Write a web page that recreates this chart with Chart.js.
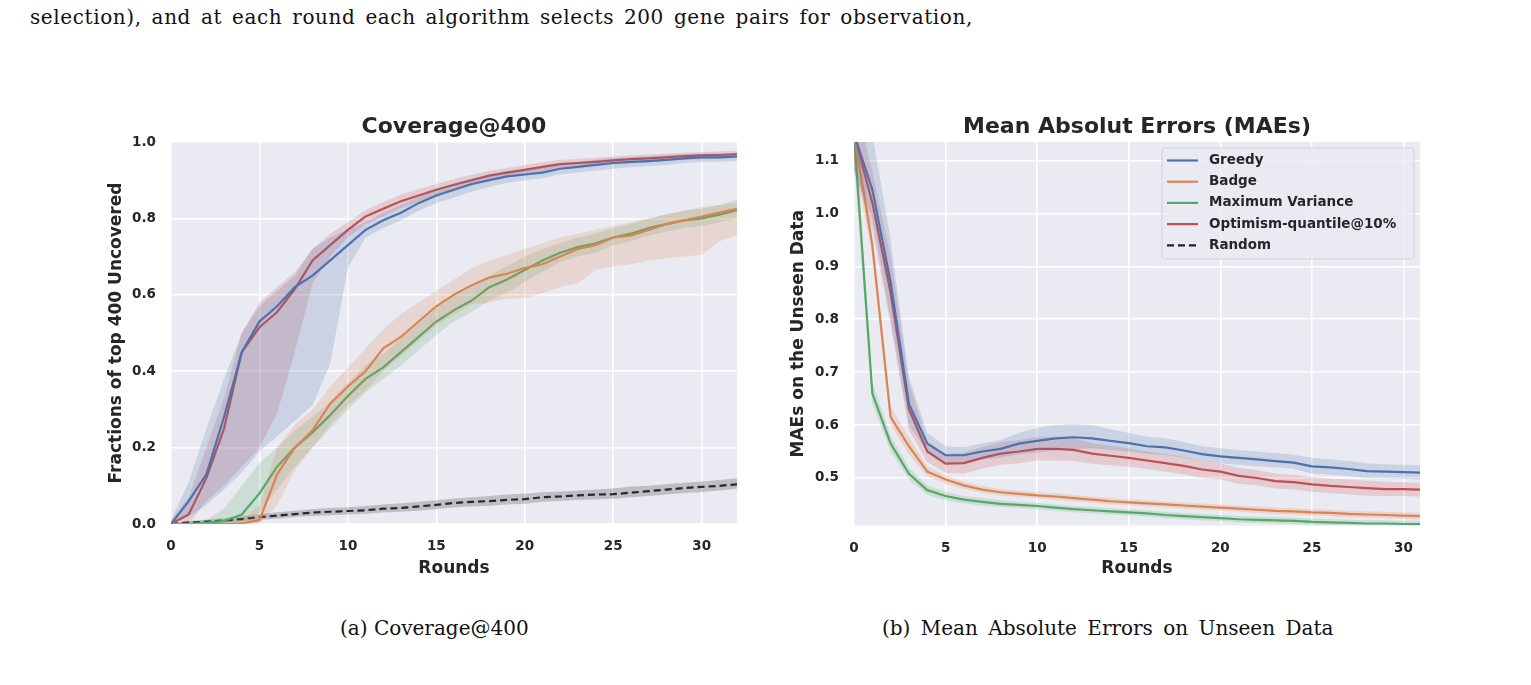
<!DOCTYPE html>
<html>
<head>
<meta charset="utf-8">
<script src="https://cdn.jsdelivr.net/npm/chart.js@4.4.1/dist/chart.umd.min.js"></script>
<style>
  body { margin: 0; background: #fff; width: 1531px; height: 685px; overflow: hidden; position: relative; }
  .txt { position: absolute; font-family: "DejaVu Serif", serif; color: #111; white-space: nowrap; }
  .box { position: absolute; }
</style>
</head>
<body>
<div class="txt" style="left:30px; top:5px; font-size:20px; letter-spacing:0.6px; word-spacing:3px;">selection), and at each round each algorithm selects 200 gene pairs for observation,</div>

<div class="box" style="left:100px; top:100px;"><canvas id="covChart" width="660" height="490"></canvas></div>
<div class="box" style="left:780px; top:100px;"><canvas id="maeChart" width="660" height="490"></canvas></div>

<div class="txt" style="left:340px; top:616px; font-size:20px;">(a) Coverage@400</div>
<div class="txt" style="left:882px; top:616px; font-size:20px; word-spacing:4px;">(b) Mean Absolute Errors on Unseen Data</div>

<script>
// --- series names + colours (seaborn "deep") ---
const seriesNames = ['Greedy', 'Badge', 'Maximum Variance', 'Optimism-quantile@10%', 'Random'];
const seriesColors = ['#4c72b0', '#dd8452', '#55a868', '#c44e52', '#222222'];

// --- Coverage@400 (rounds 0..32) ---
const covRounds = [0,1,2,3,4,5,6,7,8,9,10,11,12,13,14,15,16,17,18,19,20,21,22,23,24,25,26,27,28,29,30,31,32];
const greedyCov   = [0,0.06,0.13,0.28,0.45,0.53,0.57,0.62,0.65,0.69,0.73,0.77,0.795,0.815,0.84,0.86,0.875,0.89,0.9,0.91,0.915,0.92,0.93,0.935,0.94,0.945,0.948,0.95,0.953,0.957,0.96,0.96,0.962];
const greedyCovLo = [0,0.02,0.05,0.09,0.135,0.19,0.23,0.27,0.31,0.42,0.67,0.75,0.775,0.795,0.82,0.84,0.855,0.87,0.882,0.893,0.9,0.905,0.915,0.92,0.925,0.93,0.934,0.937,0.94,0.945,0.948,0.948,0.95];
const greedyCovHi = [0.01,0.11,0.25,0.38,0.5,0.57,0.61,0.65,0.72,0.75,0.77,0.79,0.815,0.835,0.857,0.877,0.89,0.905,0.915,0.925,0.93,0.935,0.943,0.948,0.953,0.958,0.96,0.962,0.965,0.968,0.97,0.97,0.972];
const badgeCov    = [0,0,0,0,0.002,0.01,0.13,0.2,0.245,0.315,0.36,0.4,0.46,0.49,0.53,0.57,0.6,0.625,0.645,0.655,0.67,0.68,0.7,0.72,0.73,0.75,0.755,0.77,0.785,0.795,0.805,0.815,0.825];
const badgeCovLo  = [0,0,0,0,0,0,0.05,0.14,0.2,0.26,0.31,0.35,0.4,0.44,0.48,0.52,0.55,0.575,0.58,0.59,0.59,0.605,0.62,0.63,0.665,0.675,0.68,0.69,0.695,0.7,0.705,0.74,0.755];
const badgeCovHi  = [0,0,0,0.005,0.01,0.05,0.2,0.26,0.3,0.36,0.41,0.46,0.51,0.55,0.58,0.61,0.64,0.67,0.69,0.705,0.72,0.735,0.75,0.76,0.77,0.78,0.79,0.8,0.81,0.82,0.83,0.835,0.84];
const maxVarCov   = [0,0,0.003,0.008,0.025,0.08,0.15,0.2,0.24,0.285,0.335,0.38,0.41,0.45,0.49,0.53,0.56,0.585,0.62,0.64,0.665,0.69,0.71,0.725,0.735,0.75,0.76,0.775,0.785,0.795,0.8,0.81,0.822];
const maxVarCovLo = [0,0,0,0,0.005,0.03,0.09,0.15,0.2,0.25,0.3,0.345,0.38,0.415,0.455,0.495,0.53,0.555,0.585,0.605,0.635,0.66,0.685,0.7,0.71,0.73,0.74,0.755,0.765,0.775,0.78,0.79,0.8];
const maxVarCovHi = [0,0.005,0.01,0.04,0.1,0.16,0.2,0.245,0.28,0.32,0.37,0.415,0.445,0.485,0.525,0.565,0.595,0.62,0.65,0.675,0.7,0.72,0.735,0.75,0.76,0.775,0.785,0.8,0.81,0.82,0.825,0.835,0.85];
const optCov      = [0,0.025,0.12,0.25,0.45,0.515,0.555,0.615,0.69,0.73,0.77,0.805,0.825,0.845,0.86,0.875,0.888,0.9,0.912,0.92,0.927,0.935,0.942,0.945,0.948,0.952,0.955,0.957,0.96,0.963,0.965,0.966,0.968];
const optCovLo    = [0,0,0.06,0.1,0.15,0.2,0.29,0.45,0.63,0.7,0.75,0.785,0.805,0.827,0.843,0.86,0.873,0.886,0.898,0.907,0.914,0.922,0.93,0.934,0.937,0.941,0.944,0.947,0.95,0.953,0.955,0.956,0.958];
const optCovHi    = [0.01,0.07,0.2,0.33,0.5,0.58,0.62,0.66,0.72,0.76,0.79,0.822,0.843,0.862,0.877,0.89,0.903,0.914,0.925,0.932,0.94,0.947,0.953,0.956,0.959,0.962,0.965,0.967,0.97,0.972,0.974,0.975,0.977];
const randomCov   = [0,0.004,0.006,0.009,0.013,0.018,0.022,0.026,0.03,0.032,0.034,0.036,0.04,0.042,0.046,0.05,0.055,0.058,0.06,0.063,0.065,0.07,0.072,0.075,0.077,0.078,0.082,0.086,0.09,0.094,0.097,0.1,0.104];
const randomCovLo = [0,0,0.002,0.004,0.007,0.011,0.014,0.018,0.021,0.023,0.025,0.027,0.03,0.032,0.035,0.039,0.043,0.046,0.048,0.051,0.053,0.058,0.06,0.063,0.065,0.066,0.07,0.073,0.077,0.081,0.084,0.088,0.092];
const randomCovHi = [0,0.008,0.011,0.015,0.02,0.026,0.031,0.035,0.039,0.042,0.044,0.047,0.051,0.054,0.058,0.062,0.067,0.07,0.073,0.077,0.079,0.083,0.085,0.088,0.09,0.093,0.098,0.1,0.104,0.108,0.111,0.115,0.12];
const covXTicks = [0, 5, 10, 15, 20, 25, 30];
const covYTicks = [0, 0.2, 0.4, 0.6, 0.8, 1.0];

// --- MAEs (rounds 0..31) ---
const maeRounds = [0,1,2,3,4,5,6,7,8,9,10,11,12,13,14,15,16,17,18,19,20,21,22,23,24,25,26,27,28,29,30,31];
const greedyMae   = [1.15,1.045,0.87,0.64,0.565,0.543,0.543,0.55,0.555,0.565,0.57,0.575,0.577,0.575,0.57,0.566,0.56,0.558,0.552,0.545,0.541,0.538,0.535,0.532,0.529,0.522,0.52,0.517,0.513,0.512,0.511,0.51];
const greedyMaeLo = [1.08,0.99,0.8,0.6,0.55,0.53,0.53,0.535,0.538,0.545,0.548,0.552,0.555,0.556,0.553,0.55,0.546,0.543,0.538,0.532,0.528,0.525,0.522,0.52,0.517,0.508,0.506,0.503,0.5,0.499,0.498,0.497];
const greedyMaeHi = [1.25,1.15,0.95,0.69,0.585,0.56,0.558,0.565,0.572,0.585,0.595,0.6,0.602,0.6,0.592,0.585,0.578,0.575,0.568,0.56,0.556,0.553,0.55,0.547,0.544,0.538,0.535,0.532,0.528,0.526,0.525,0.524];
const badgeMae    = [1.15,0.94,0.615,0.56,0.512,0.497,0.486,0.478,0.473,0.47,0.467,0.465,0.462,0.459,0.456,0.454,0.452,0.45,0.448,0.446,0.444,0.442,0.44,0.438,0.437,0.435,0.434,0.432,0.431,0.43,0.429,0.428];
const badgeMaeLo  = [1.1,0.92,0.6,0.545,0.503,0.489,0.479,0.472,0.467,0.464,0.461,0.459,0.456,0.453,0.45,0.448,0.446,0.444,0.442,0.44,0.438,0.436,0.434,0.432,0.431,0.429,0.428,0.426,0.425,0.424,0.423,0.421];
const badgeMaeHi  = [1.2,0.96,0.635,0.577,0.522,0.505,0.493,0.485,0.479,0.476,0.473,0.471,0.468,0.465,0.462,0.46,0.458,0.456,0.454,0.452,0.45,0.448,0.446,0.444,0.443,0.441,0.44,0.438,0.437,0.436,0.435,0.434];
const maxVarMae   = [1.15,0.66,0.565,0.508,0.477,0.466,0.459,0.455,0.451,0.449,0.447,0.444,0.441,0.439,0.437,0.435,0.433,0.43,0.428,0.426,0.424,0.422,0.421,0.42,0.419,0.417,0.416,0.415,0.414,0.414,0.413,0.413];
const maxVarMaeLo = [1.1,0.64,0.55,0.497,0.468,0.458,0.452,0.448,0.445,0.443,0.441,0.438,0.435,0.433,0.431,0.429,0.427,0.424,0.422,0.42,0.418,0.416,0.415,0.414,0.413,0.411,0.41,0.409,0.408,0.408,0.407,0.407];
const maxVarMaeHi = [1.2,0.68,0.58,0.52,0.486,0.474,0.466,0.462,0.458,0.455,0.453,0.45,0.447,0.445,0.443,0.441,0.439,0.436,0.434,0.432,0.43,0.428,0.427,0.426,0.425,0.423,0.422,0.421,0.42,0.42,0.419,0.419];
const optMae      = [1.15,1.02,0.85,0.63,0.55,0.527,0.528,0.538,0.546,0.55,0.555,0.555,0.553,0.546,0.542,0.538,0.533,0.528,0.523,0.516,0.512,0.504,0.5,0.494,0.492,0.488,0.485,0.483,0.481,0.479,0.479,0.478];
const optMaeLo    = [1.08,0.97,0.79,0.59,0.53,0.51,0.508,0.518,0.525,0.528,0.533,0.533,0.532,0.527,0.524,0.521,0.517,0.512,0.507,0.5,0.497,0.489,0.486,0.48,0.478,0.474,0.471,0.469,0.467,0.466,0.466,0.465];
const optMaeHi    = [1.22,1.08,0.92,0.68,0.57,0.545,0.548,0.558,0.568,0.572,0.577,0.578,0.575,0.566,0.561,0.556,0.55,0.545,0.54,0.532,0.528,0.519,0.515,0.508,0.506,0.502,0.499,0.497,0.495,0.493,0.492,0.491];
const maeXTicks = [0, 5, 10, 15, 20, 25, 30];
const maeYTicks = [0.5, 0.6, 0.7, 0.8, 0.9, 1.0, 1.1];

const TEXT_COLOR = '#262626';
const FONT = '"DejaVu Sans", sans-serif';

// turn a hex colour into rgba with alpha
function withAlpha(hex, a) {
    const n = parseInt(hex.slice(1), 16);
    return `rgba(${(n >> 16) & 255}, ${(n >> 8) & 255}, ${n & 255}, ${a})`;
}

function toPoints(xs, ys) {
    return xs.map((x, i) => ({ x: x, y: ys[i] }));
}

// build the band (upper + lower filled) and the mean line for one series
function seriesDatasets(idx, xs, mean, lo, hi) {
    const color = seriesColors[idx];
    const bandColor = idx === 4 ? 'rgba(60, 60, 60, 0.25)' : withAlpha(color, 0.2);
    return [
        { data: toPoints(xs, hi), borderWidth: 0, pointRadius: 0, fill: false },
        { data: toPoints(xs, lo), borderWidth: 0, pointRadius: 0, fill: '-1', backgroundColor: bandColor },
        {
            label: seriesNames[idx],
            data: toPoints(xs, mean),
            borderColor: color,
            borderWidth: 2.2,
            borderDash: idx === 4 ? [7, 4] : [],
            pointRadius: 0,
            fill: false,
            tension: 0
        }
    ];
}

// seaborn-style grey plot background
const bgPlugin = {
    id: 'bgPlugin',
    beforeDraw(chart) {
        const a = chart.chartArea;
        const ctx = chart.ctx;
        ctx.save();
        ctx.fillStyle = '#eaeaf2';
        ctx.fillRect(a.left, a.top, a.right - a.left, a.bottom - a.top);
        ctx.restore();
    }
};

// framed legend in the upper right corner of the plot
const boxLegendPlugin = {
    id: 'boxLegend',
    afterDatasetsDraw(chart) {
        const a = chart.chartArea;
        const ctx = chart.ctx;
        const w = 252, h = 111;
        const x0 = a.right - 6 - w, y0 = a.top + 6;
        ctx.save();
        ctx.beginPath();
        ctx.roundRect(x0, y0, w, h, 3);
        ctx.fillStyle = 'rgba(234, 234, 242, 0.8)';
        ctx.fill();
        ctx.strokeStyle = 'rgba(204, 204, 204, 0.8)';
        ctx.lineWidth = 1;
        ctx.stroke();
        ctx.font = `bold 13.5px ${FONT}`;
        ctx.textBaseline = 'middle';
        seriesNames.forEach((name, i) => {
            const y = y0 + 12.5 + i * 21.2;
            ctx.beginPath();
            ctx.setLineDash(i === 4 ? [7, 4] : []);
            ctx.strokeStyle = seriesColors[i];
            ctx.lineWidth = 2.2;
            ctx.moveTo(x0 + 5, y);
            ctx.lineTo(x0 + 36, y);
            ctx.stroke();
            ctx.setLineDash([]);
            ctx.fillStyle = TEXT_COLOR;
            ctx.fillText(name, x0 + 47, y);
        });
        ctx.restore();
    }
};

function axisOptions(opts) {
    return {
        x: {
            type: 'linear',
            min: opts.xMin, max: opts.xMax,
            afterBuildTicks: s => { s.ticks = opts.xTicks.map(v => ({ value: v })); },
            afterFit: s => { s.height = opts.xHeight; },
            grid: { color: '#ffffff', lineWidth: 1.5, drawTicks: false },
            border: { display: false },
            ticks: { color: TEXT_COLOR, font: { family: FONT, size: 13.5, weight: 'bold' }, padding: 14.5, maxRotation: 0 },
            title: { display: true, text: 'Rounds', color: TEXT_COLOR, font: { family: FONT, size: 17, weight: 'bold' }, padding: { top: 0, bottom: 10.8 } }
        },
        y: {
            min: opts.yMin, max: opts.yMax,
            afterBuildTicks: s => { s.ticks = opts.yTicks.map(v => ({ value: v })); },
            afterFit: s => { s.width = opts.yWidth; },
            grid: { color: '#ffffff', lineWidth: 1.5, drawTicks: false },
            border: { display: false },
            ticks: { color: TEXT_COLOR, font: { family: FONT, size: 13.5, weight: 'bold' }, padding: 15, callback: v => v.toFixed(1) },
            title: { display: true, text: opts.yTitle, color: TEXT_COLOR, font: { family: FONT, size: 17, weight: 'bold' }, padding: { top: opts.yTitlePad, bottom: 0 } }
        }
    };
}

function commonOptions(title, scales, rightPad) {
    return {
        responsive: false,
        animation: false,
        layout: { padding: { left: 0, right: rightPad, top: 0, bottom: 0 } },
        plugins: {
            legend: { display: false },
            tooltip: { enabled: false },
            title: {
                display: true, text: title, color: TEXT_COLOR, fullSize: false,
                font: { family: FONT, size: 22, weight: 'bold' },
                padding: { top: 14.5, bottom: 1.1 }
            }
        },
        scales: scales
    };
}

// --- Left: Coverage@400 ---
new Chart(document.getElementById('covChart'), {
    type: 'line',
    data: {
        datasets: [
            ...seriesDatasets(0, covRounds, greedyCov, greedyCovLo, greedyCovHi),
            ...seriesDatasets(1, covRounds, badgeCov, badgeCovLo, badgeCovHi),
            ...seriesDatasets(2, covRounds, maxVarCov, maxVarCovLo, maxVarCovHi),
            ...seriesDatasets(3, covRounds, optCov, optCovLo, optCovHi),
            ...seriesDatasets(4, covRounds, randomCov, randomCovLo, randomCovHi)
        ]
    },
    options: commonOptions('Coverage@400', axisOptions({
        xMin: 0, xMax: 32, xTicks: covXTicks, xHeight: 66,
        yMin: 0, yMax: 1.0, yTicks: covYTicks, yWidth: 71,
        yTitle: 'Fractions of top 400 Uncovered', yTitlePad: 6.5
    }), 23),
    plugins: [bgPlugin]
});

// --- Right: Mean Absolut Errors ---
new Chart(document.getElementById('maeChart'), {
    type: 'line',
    data: {
        datasets: [
            ...seriesDatasets(0, maeRounds, greedyMae, greedyMaeLo, greedyMaeHi),
            ...seriesDatasets(1, maeRounds, badgeMae, badgeMaeLo, badgeMaeHi),
            ...seriesDatasets(2, maeRounds, maxVarMae, maxVarMaeLo, maxVarMaeHi),
            ...seriesDatasets(3, maeRounds, optMae, optMaeLo, optMaeHi)
        ]
    },
    options: commonOptions('Mean Absolut Errors (MAEs)', axisOptions({
        xMin: 0, xMax: 30.9, xTicks: maeXTicks, xHeight: 64.4,
        yMin: 0.41, yMax: 1.135, yTicks: maeYTicks, yWidth: 74,
        yTitle: 'MAEs on the Unseen Data', yTitlePad: 8.8
    }), 20),
    plugins: [bgPlugin, boxLegendPlugin]
});
</script>
</body>
</html>
